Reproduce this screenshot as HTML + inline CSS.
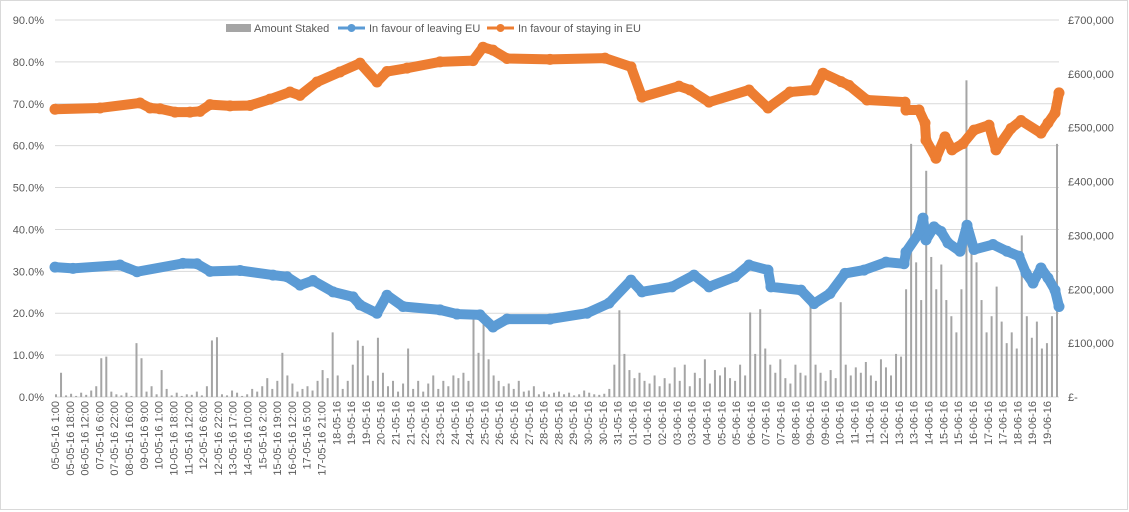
<!DOCTYPE html>
<html><head><meta charset="utf-8">
<style>
html,body{margin:0;padding:0;background:#fff;}
svg{display:block;font-family:"Liberation Sans",sans-serif;}
</style></head>
<body>
<svg id="chart" width="1129" height="512" viewBox="0 0 1129 512" xmlns="http://www.w3.org/2000/svg">
<rect x="0.5" y="0.5" width="1127" height="509" fill="#fff" stroke="#D9D9D9"/>
<g id="grid"></g><g id="bars"></g><g id="lines"></g><g id="axes"></g><g id="legend"></g>
</svg>
<script>
// Data (observation index 0..1004 along x axis)
const leftTicks = [0,10,20,30,40,50,60,70,80,90];
const rightTicks = ["£-","£100,000","£200,000","£300,000","£400,000","£500,000","£600,000","£700,000"];
const xLabels = ["05-05-16 1:00","05-05-16 18:00","06-05-16 12:00","07-05-16 6:00","07-05-16 22:00","08-05-16 16:00","09-05-16 9:00","10-05-16 1:00","10-05-16 18:00","11-05-16 12:00","12-05-16 6:00","12-05-16 22:00","13-05-16 17:00","14-05-16 10:00","15-05-16 2:00","15-05-16 19:00","16-05-16 12:00","17-05-16 5:00","17-05-16 21:00","18-05-16","19-05-16","19-05-16","20-05-16","21-05-16","21-05-16","22-05-16","23-05-16","24-05-16","24-05-16","25-05-16","26-05-16","26-05-16","27-05-16","28-05-16","28-05-16","29-05-16","30-05-16","30-05-16","31-05-16","01-06-16","01-06-16","02-06-16","03-06-16","03-06-16","04-06-16","05-06-16","05-06-16","06-06-16","07-06-16","07-06-16","08-06-16","09-06-16","09-06-16","10-06-16","11-06-16","11-06-16","12-06-16","13-06-16","13-06-16","14-06-16","15-06-16","15-06-16","16-06-16","17-06-16","17-06-16","18-06-16","19-06-16","19-06-16"];
const remainIdx = [0,45,85,95,105,120,135,145,155,175,195,215,235,245,262,285,305,322,332,352,385,418,428,438,452,495,550,576,587,624,635,654,694,713,735,759,768,786,794,812,850,851,864,870,871,881,890,897,908,919,934,941,956,966,986,993,1000,1004];
const remainVals = [68.7,69,70.2,69,68.8,68,68,68.2,69.8,69.5,69.6,71.1,72.8,72,75.2,77.6,79.7,75.2,77.7,78.5,80,80.3,83.5,82.8,80.8,80.6,80.9,78.8,71.6,74.2,73.3,70.4,73.3,69,72.8,73.3,77.3,75.3,74.4,70.9,70.4,68.5,68.5,65.4,61.3,57,62.1,59,60.5,63.7,64.9,59,64.1,66,63,65.4,67.8,72.6,69,72,74.1,77.6];
remainIdx.length = remainVals.length;
const leaveIdx = [0,18,65,82,128,142,155,185,218,232,245,258,278,298,305,322,332,348,385,402,425,438,452,495,532,554,576,587,617,639,654,680,694,713,716,746,759,775,790,809,831,849,851,864,868,871,879,886,893,905,912,919,938,952,964,971,978,986,993,1000,1004];
const leaveVals = [31,30.7,31.5,29.9,31.9,31.8,30,30.2,29.1,28.7,26.7,27.8,25.1,23.9,22,20,24.3,21.6,20.8,19.8,19.6,16.7,18.6,18.6,20,22.4,27.9,25.1,26.3,29.1,26.3,28.7,31.5,30.3,26.3,25.5,22.3,24.7,29.5,30.3,32.2,31.8,34.6,39.1,42.7,37.5,40.6,39.5,36.8,34.8,41,35.2,36.4,34.8,33.6,29.6,27.2,30.8,28.4,25.5,21.6];
leaveIdx.length = leaveVals.length;
const stakes = [5,45,3,6,2,8,4,12,20,72, 75,10,5,3,8,2,100,72,10,20, 5,50,15,3,8,2,5,4,10,3, 20,105,111,5,3,12,8,2,5,15, 10,20,35,15,30,82,40,25,10,15, 20,12,30,50,35,120,40,15,30,60, 105,95,40,30,110,45,20,30,10,25, 90,15,30,10,25,40,15,30,20,40, 35,45,30,148,82,155,70,40,30,20, 25,15,30,10,12,20,5,10,5,8, 10,5,8,3,5,12,8,5,4,6, 15,60,161,80,50,35,45,30,25,40, 20,35,25,55,30,60,20,45,35,70, 25,50,40,55,35,30,60,40,157,80, 163,90,60,45,70,35,25,60,45,40, 170,60,45,30,50,35,176,60,40,55, 45,65,40,30,70,55,40,80,75,200, 470,250,180,420,260,200,246,180,150,120, 200,588,285,250,180,120,150,205,140,100, 120,90,300,150,110,140,90,100,150,470];

const NS="http://www.w3.org/2000/svg";
const X0=55, X1=1059, Y0=397, Y90=20;
const xs = i => X0 + i;
const yL = v => Y0 - (v/90)*(Y0-Y90);
const yR = v => Y0 - (v/700)*(Y0-Y90);
function mk(tag, attrs, parent){const e=document.createElementNS(NS,tag);for(const k in attrs)e.setAttribute(k,attrs[k]);parent.appendChild(e);return e;}
const grid=document.getElementById('grid'), axes=document.getElementById('axes');
leftTicks.forEach(t=>{
  const l=mk('line',{x1:X0,x2:X1,y1:yL(t),y2:yL(t),stroke:'#D9D9D9','stroke-width':1},grid);
  
  
  const tx=mk('text',{x:44,y:yL(t)+4,'text-anchor':'end','font-size':11,fill:'#595959'},axes);
  tx.textContent=t.toFixed(1)+'%';
  
  
});
rightTicks.forEach((t,i)=>{
  const tx=mk('text',{x:1068,y:yR(i*100)+4,'font-size':11,fill:'#595959'},axes);
  tx.textContent=t;
  
  
});
const step=(1047-X0)/(xLabels.length-1);
xLabels.forEach((t,i)=>{
  const x=X0+i*step+4;
  const tx=mk('text',{x:x,y:401,transform:`rotate(-90 ${x} 401)`,'text-anchor':'end','font-size':11,fill:'#595959'},axes);
  tx.textContent=t;
  
  
});
const bars=document.getElementById('bars');
const bstep=(X1-X0-3)/(stakes.length-1);
stakes.forEach((v,i)=>{
  const x=X0+1+i*bstep;
  const r=mk('rect',{x:x-1,y:yR(v),width:2,height:Y0-yR(v),fill:'#A5A5A5'},bars);
  
  
});
const lines=document.getElementById('lines');
function series(idx, vals, color, name){
  const pts=idx.map((k,i)=>[xs(k),yL(vals[i])]);
  const p=mk('polyline',{points:pts.map(p=>p.join(',')).join(' '),fill:'none',stroke:color,'stroke-width':10,'stroke-linejoin':'round','stroke-linecap':'round'},lines);
  
  
  pts.forEach(q=>{
    const c=mk('circle',{cx:q[0],cy:q[1],r:5.5,fill:color},lines);
    
    
  });
}
series(leaveIdx, leaveVals, '#5B9BD5', 'leave');
series(remainIdx, remainVals, '#ED7D31', 'remain');
const lg=document.getElementById('legend');
const sw=mk('rect',{x:226,y:24,width:25,height:8,fill:'#A5A5A5'},lg);


const t1=mk('text',{x:254,y:32,'font-size':11,fill:'#595959'},lg);t1.textContent='Amount Staked';


[[338,'#5B9BD5','In favour of leaving EU','legend-entry-leave'],[487,'#ED7D31','In favour of staying in EU','legend-entry-remain']].forEach(e=>{
  const l=mk('line',{x1:e[0],x2:e[0]+27,y1:28,y2:28,stroke:e[1],'stroke-width':3},lg);
  
  
  const c=mk('circle',{cx:e[0]+13.5,cy:28,r:4,fill:e[1]},lg);
  
  
  const t=mk('text',{x:e[0]+31,y:32,'font-size':11,fill:'#595959'},lg);t.textContent=e[2];
  
  
});
</script>
</body></html>
